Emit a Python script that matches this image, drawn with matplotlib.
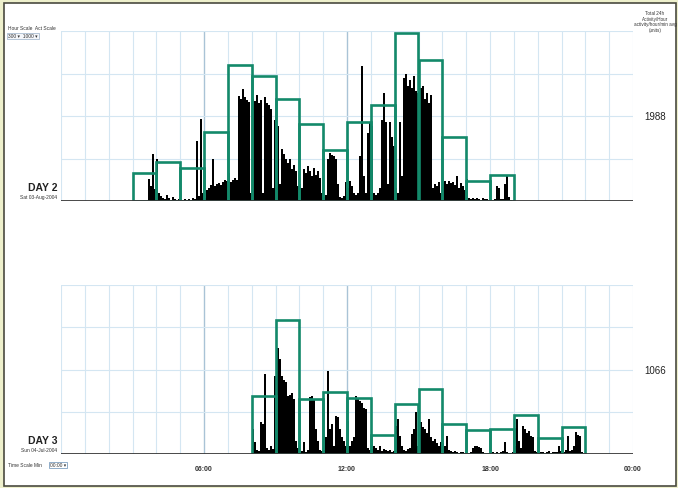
import numpy as np
import matplotlib.pyplot as plt
from matplotlib.patches import Rectangle

plt.rcParams['font.family'] = ['Liberation Sans', 'DejaVu Sans']

# hourly totals (green outline bars), on the 0-400 activity axis
day2_hours = list(range(3, 19))
day2_hourly = [65, 91, 77, 163, 320, 295, 240, 181, 121, 187, 226, 395, 332, 151, 48, 61]
day3_hours = list(range(8, 22))
day3_hourly = [138, 317, 130, 147, 133, 45, 119, 155, 71, 56, 59, 92, 38, 63]

# 5-minute activity counts, 12 per hour
day2_start = 3
day2_activity = [
    [0, 0, 0, 0, 0, 0, 0, 0, 52, 35, 110, 28],
    [99, 20, 12, 8, 5, 14, 6, 3, 10, 4, 2, 5],
    [3, 2, 5, 2, 4, 3, 6, 4, 142, 12, 194, 20],
    [8, 25, 30, 38, 99, 35, 40, 42, 38, 45, 50, 48],
    [67, 45, 50, 55, 50, 248, 240, 263, 245, 238, 232, 20],
    [240, 235, 250, 230, 238, 20, 244, 230, 225, 216, 30, 190],
    [185, 177, 40, 122, 110, 99, 90, 100, 75, 85, 70, 36],
    [40, 30, 75, 65, 83, 70, 60, 78, 62, 70, 55, 20],
    [10, 15, 100, 114, 108, 105, 100, 40, 10, 8, 12, 44],
    [30, 48, 36, 20, 15, 20, 107, 318, 60, 20, 160, 185],
    [177, 20, 15, 20, 30, 190, 255, 185, 40, 185, 150, 130],
    [30, 20, 185, 60, 290, 298, 270, 285, 265, 295, 260, 255],
    [280, 265, 270, 240, 255, 230, 250, 30, 40, 35, 44, 20],
    [45, 48, 40, 46, 42, 45, 38, 60, 30, 42, 35, 25],
    [52, 8, 5, 6, 4, 7, 5, 3, 6, 4, 5, 3],
    [3, 2, 4, 36, 30, 5, 4, 40, 60, 10, 3, 0],
]
day3_start = 8
day3_activity = [
    [59, 28, 10, 8, 75, 70, 190, 15, 10, 20, 12, 185],
    [160, 252, 225, 185, 175, 170, 138, 140, 145, 130, 30, 15],
    [5, 8, 28, 5, 10, 135, 138, 130, 60, 30, 10, 8],
    [10, 40, 197, 60, 70, 20, 90, 87, 60, 40, 30, 20],
    [79, 20, 30, 40, 138, 130, 126, 120, 110, 106, 15, 10],
    [12, 20, 15, 10, 18, 8, 12, 10, 6, 9, 5, 8],
    [67, 83, 43, 20, 10, 8, 12, 15, 48, 60, 99, 20],
    [10, 75, 65, 59, 50, 83, 40, 30, 35, 25, 20, 28],
    [25, 20, 43, 10, 8, 5, 6, 4, 3, 5, 4, 2],
    [2, 3, 4, 15, 20, 18, 16, 15, 5, 3, 2, 2],
    [3, 4, 2, 5, 3, 4, 8, 28, 5, 3, 2, 4],
    [20, 83, 30, 15, 67, 60, 50, 55, 43, 40, 8, 5],
    [3, 4, 5, 3, 4, 6, 3, 5, 4, 5, 20, 8],
    [3, 5, 10, 43, 8, 10, 20, 51, 45, 43, 5, 0],
]

x_ticks = [6, 12, 18, 24]
x_labels = ['06:00', '12:00', '18:00', '00:00']

W, H = 678, 489
GREEN = '#13896a'
GRID = '#d4e6f2'
GRID_DARK = '#a9c3d6'


def px(x, y):
    return x / W, 1 - y / H


fig = plt.figure(figsize=(W / 100, H / 100), dpi=100)
fig.patch.set_facecolor('#eef0cc')
fig.add_artist(Rectangle(px(3.5, 487), 672.5 / W, 483 / H, transform=fig.transFigure,
                         facecolor='white', edgecolor='#4a4a40', linewidth=1.2, zorder=-10))


def draw_day(ax, start, activity, hours, hourly):
    vals = np.array(activity).ravel()
    x = start + np.arange(len(vals)) / 12
    ax.set_xlim(0, 24)
    ax.set_ylim(0, 400)
    for h in range(25):
        dark = h in (6, 12)
        ax.axvline(h, color=GRID_DARK if dark else GRID, lw=1.0 if dark else 0.8, zorder=0)
    for yv in (100, 200, 300, 400):
        ax.axhline(yv, color=GRID, lw=0.8, zorder=0)
    ax.bar(x, vals, width=1 / 12, align='edge', color='black', linewidth=0, zorder=2)
    ax.bar(hours, hourly, width=1, align='edge', fill=False, edgecolor=GREEN,
           linewidth=1.9, zorder=3)
    ax.axhline(0, color='#3a3a3a', lw=1.3, zorder=4)
    for s in ax.spines.values():
        s.set_visible(False)
    ax.set_yticks([])
    ax.set_xticks([])
    ax.patch.set_alpha(0)


ax1 = fig.add_axes([61 / W, 1 - 202 / H, 572 / W, 170 / H])
draw_day(ax1, day2_start, day2_activity, day2_hours, day2_hourly)
ax2 = fig.add_axes([61 / W, 1 - 455 / H, 572 / W, 169 / H])
draw_day(ax2, day3_start, day3_activity, day3_hours, day3_hourly)
ax2.set_xticks(x_ticks)
ax2.set_xticklabels(x_labels, fontsize=5, fontweight='bold', color='#333333')
ax2.tick_params(axis='x', length=0, pad=8)

# labels round the panels
fig.text(*px(57, 188), 'DAY 2', ha='right', va='center', fontsize=7.5, fontweight='bold', color='#222222')
fig.text(*px(57, 198), 'Sat 03-Aug-2004', ha='right', va='center', fontsize=3.5, color='#333333')
fig.text(*px(57, 441), 'DAY 3', ha='right', va='center', fontsize=7.5, fontweight='bold', color='#222222')
fig.text(*px(57, 451), 'Sun 04-Jul-2004', ha='right', va='center', fontsize=3.5, color='#333333')
fig.text(*px(8, 466), 'Time Scale Min', ha='left', va='center', fontsize=3.5, color='#333333')
fig.text(*px(50, 466), '00:00 \u25be', ha='left', va='center', fontsize=3.5, color='#333333',
         bbox=dict(boxstyle='square,pad=0.2', facecolor='white', edgecolor='#7fa0c0', lw=0.6))
fig.text(*px(8, 29), 'Hour Scale  Act Scale', ha='left', va='center', fontsize=3.5, color='#333333')
fig.text(*px(8, 37), '300 \u25be  1000 \u25be', ha='left', va='center', fontsize=3.5, color='#333333',
         bbox=dict(boxstyle='square,pad=0.2', facecolor='#f4f6fa', edgecolor='#9ab0c8', lw=0.5))
fig.text(*px(655, 22), 'Total 24h\nActivity/Hour\nactivity/hour/min avg\n(units)', ha='center',
         va='center', fontsize=3.3, color='#333333', linespacing=1.1)
fig.text(*px(655, 117), '1988', ha='center', va='center', fontsize=7, color='#222222')
fig.text(*px(655, 371), '1066', ha='center', va='center', fontsize=7, color='#222222')

fig.savefig('out.png', dpi=100, facecolor=fig.get_facecolor())
